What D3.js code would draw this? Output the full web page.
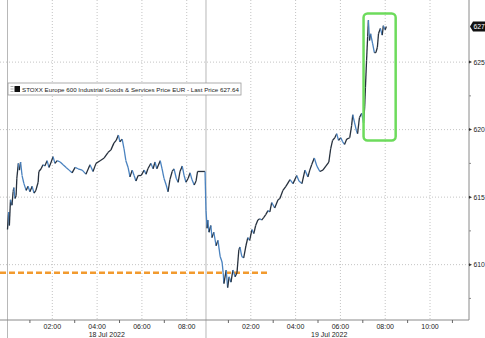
<!DOCTYPE html>
<html>
<head>
<meta charset="utf-8">
<script src="https://cdn.jsdelivr.net/npm/d3@7"></script>
<style>
  body { margin: 0; background: #fff; }
  svg { display: block; font-family: "Liberation Sans", Arial, sans-serif; }
</style>
</head>
<body>
<svg width="485" height="338"></svg>
<script>
var svg = d3.select("svg"),
	width = 469,
	height = 320;

// 18 Jul 2022 session
let day1Times = ["00:00","00:03","00:05","00:08","00:12","00:15","00:17","00:20","00:23","00:25",
	"00:29","00:32","00:35","00:39","00:44","00:50","00:55","01:00","01:06","01:11",
	"01:16","01:22","01:24","01:30","01:35","01:40","01:46","01:51","01:57","02:02",
	"02:07","02:13","02:21","02:29","02:37","02:45","02:53","03:01","03:09","03:20",
	"03:30","03:41","03:49","03:57","04:08","04:19","04:29","04:37","04:45","04:51",
	"04:57","05:01","05:07","05:12","05:17","05:23","05:28","05:34","05:39","05:44",
	"05:50","05:58","06:06","06:11","06:16","06:24","06:30","06:35","06:40","06:49",
	"06:54","06:59","07:05","07:10","07:15","07:21","07:26","07:32","07:37","07:42",
	"07:48","07:53","07:58","08:04","08:09","08:14","08:20","08:25","08:29","08:49"];
let day1Prices = [612.6,613.9,612.9,614.8,614.4,615.4,615.7,614.9,615.1,616.4,
	617.5,617.0,617.6,616.6,616.0,615.5,615.8,615.4,615.8,615.3,
	615.5,616.1,616.9,617.1,617.4,617.3,617.7,617.2,617.6,618.0,
	617.5,617.7,617.6,617.4,617.2,617.0,616.8,617.2,617.1,617.0,
	616.7,617.4,616.9,617.5,617.7,617.9,618.3,618.5,619.0,619.2,
	619.6,619.1,619.3,618.6,617.7,617.2,616.5,617.0,616.6,616.2,
	616.6,616.6,617.0,616.7,617.1,617.5,617.1,617.6,617.1,617.7,
	617.1,616.4,615.9,615.4,616.3,616.9,617.1,616.4,616.1,616.9,
	617.3,616.6,616.1,616.4,616.8,616.3,615.9,616.2,616.9,616.9];

// 19 Jul 2022 session
let day2Times = ["00:00","00:03","00:05","00:08","00:13","00:16","00:21","00:27","00:32","00:38",
	"00:43","00:46","00:48","00:54","00:58","01:02","01:07","01:12","01:18","01:23",
	"01:28","01:31","01:36","01:41","01:47","01:52","01:57","02:03","02:08","02:13",
	"02:19","02:24","02:29","02:35","02:40","02:46","02:51","02:56","03:04","03:13",
	"03:18","03:26","03:34","03:45","03:53","04:03","04:09","04:17","04:25","04:33",
	"04:38","04:43","04:50","04:57","05:05","05:13","05:21","05:29","05:34","05:39",
	"05:45","05:50","05:55","06:01","06:06","06:11","06:17","06:25","06:30","06:33",
	"06:38","06:43","06:46","06:51","06:57","07:02","07:05","07:07","07:10","07:13",
	"07:15","07:18","07:21","07:26","07:31","07:35","07:39","07:42","07:47","07:52",
	"07:55","08:00","08:03"];
let day2Prices = [614.0,612.7,613.3,612.4,612.9,612.0,612.4,611.4,611.8,610.6,
	610.2,609.4,608.6,609.6,608.3,609.1,608.7,609.6,609.1,609.4,
	611.1,611.3,610.6,610.5,611.4,612.0,611.8,612.6,612.3,612.9,
	613.3,613.4,613.3,613.5,613.7,614.0,613.9,614.6,614.2,614.8,
	614.9,615.5,615.8,616.3,616.0,616.6,616.2,616.0,617.0,616.5,
	617.0,617.4,617.9,617.3,616.9,617.0,617.3,617.6,618.6,619.2,
	619.4,619.7,619.2,619.4,619.1,618.9,619.3,619.4,620.3,621.1,
	620.5,619.9,619.7,620.9,621.2,620.5,621.7,623.1,625.1,626.9,
	628.1,626.6,627.1,626.4,625.7,625.7,626.1,627.1,627.5,627.0,
	627.7,627.4,627.64];

let yTicks = [610, 615, 620, 625];
let yMinorTicks = [607.5, 612.5, 617.5, 622.5];
let hourLabels = [["02:00","04:00","06:00","08:00"], ["02:00","04:00","06:00","08:00","10:00"]];
let hourTicks = [["01:00","03:00","05:00","07:00"], ["01:00","03:00","05:00","07:00","09:00","11:00"]];
let dayLabels = ["18 Jul 2022", "19 Jul 2022"];
let seriesName = "STOXX Europe 600 Industrial Goods & Services Price EUR - Last Price";
let lastPrice = 627.64;
let supportLevel = 609.4;
let supportEnd = "02:51";   // dashed level runs until this time on 19 Jul
let boxStart = "07:02", boxEnd = "08:28";   // green highlight, 19 Jul
let boxLow = 619.2, boxHigh = 628.6;

// non-trading hours are squeezed out, so day 2 starts right after day 1
let dayOffset = [0, 8.86];
function axisHour(day, t) {
	let p = t.split(":").map(Number);
	return dayOffset[day] + p[0] + p[1] / 60;
}

var x = d3.scaleLinear()
	.domain([-0.335, 20.6])
	.range([0, width]);

var y = d3.scaleLinear()
	.domain([605.9, 629.6])
	.range([height, 0]);

let data = [];
day1Times.forEach(function(t, i) { data.push({h: axisHour(0, t), v: day1Prices[i]}); });
day2Times.forEach(function(t, i) { data.push({h: axisHour(1, t), v: day2Prices[i]}); });

// gridlines
let grid = svg.append("g").attr("stroke", "#c4c4c4").attr("stroke-dasharray", "1,2");
yTicks.forEach(function(v) {
	grid.append("line").attr("x1", 0).attr("x2", width).attr("y1", y(v)).attr("y2", y(v));
});
hourLabels.forEach(function(list, day) {
	list.forEach(function(t) {
		grid.append("line").attr("x1", x(axisHour(day, t))).attr("x2", x(axisHour(day, t)))
			.attr("y1", 0).attr("y2", height);
	});
});

// day separators
[0, 1].forEach(function(day) {
	svg.append("line")
		.attr("x1", x(dayOffset[day])).attr("x2", x(dayOffset[day]))
		.attr("y1", 0).attr("y2", 338)
		.attr("stroke", "#b8b8b8");
});

// support level
svg.append("line")
	.attr("x1", 0)
	.attr("x2", x(axisHour(1, supportEnd)))
	.attr("y1", y(supportLevel))
	.attr("y2", y(supportLevel))
	.attr("stroke", "#f29a2e")
	.attr("stroke-width", 2.6)
	.attr("stroke-dasharray", "6,3");

// price line, coloured by tick direction
let segs = svg.append("g").attr("fill", "none").attr("stroke-width", 1.3);
for (let i = 1; i < data.length; i++) {
	segs.append("line")
		.attr("x1", x(data[i - 1].h)).attr("y1", y(data[i - 1].v))
		.attr("x2", x(data[i].h)).attr("y2", y(data[i].v))
		.attr("stroke", data[i].v >= data[i - 1].v ? "#26303d" : "#4a82bf");
}

// highlight box
svg.append("rect")
	.attr("x", x(axisHour(1, boxStart)))
	.attr("y", y(boxHigh))
	.attr("width", x(axisHour(1, boxEnd)) - x(axisHour(1, boxStart)))
	.attr("height", y(boxLow) - y(boxHigh))
	.attr("rx", 4)
	.attr("fill", "none")
	.attr("stroke", "#6ddb5c")
	.attr("stroke-width", 2.5);

// legend
let legend = svg.append("g").attr("transform", "translate(8,83)");
legend.append("rect")
	.attr("width", 233).attr("height", 12)
	.attr("fill", "#fff").attr("stroke", "#9a9a9a").attr("stroke-width", 0.8);
[3.5, 6, 8.5].forEach(function(ly) {
	legend.append("line").attr("x1", 2.5).attr("x2", 5.5).attr("y1", ly).attr("y2", ly)
		.attr("stroke", "#999").attr("stroke-width", 0.8);
});
legend.append("rect").attr("x", 6.5).attr("y", 3).attr("width", 5.5).attr("height", 6).attr("fill", "#111");
legend.append("text")
	.attr("x", 14).attr("y", 8.6)
	.style("font-size", "6.2px")
	.attr("fill", "#222")
	.text(seriesName + " " + lastPrice.toFixed(2));

// axes
svg.append("line").attr("x1", 0).attr("x2", width).attr("y1", height).attr("y2", height)
	.attr("stroke", "#8a8a8a");
svg.append("line").attr("x1", width).attr("x2", width).attr("y1", 0).attr("y2", height)
	.attr("stroke", "#8a8a8a");

yTicks.forEach(function(v) {
	svg.append("path")
		.attr("d", "M" + width + "," + (y(v) - 1.5) + "L" + (width + 3) + "," + y(v) + "L" + width + "," + (y(v) + 1.5) + "Z")
		.attr("fill", "#333");
	svg.append("text")
		.attr("x", width + 4.5).attr("y", y(v) + 2.4)
		.style("font-size", "6.8px").attr("fill", "#222")
		.text(v);
});
yMinorTicks.forEach(function(v) {
	svg.append("line").attr("x1", width).attr("x2", width + 2).attr("y1", y(v)).attr("y2", y(v))
		.attr("stroke", "#8a8a8a");
});

hourTicks.forEach(function(list, day) {
	list.forEach(function(t) {
		svg.append("line").attr("x1", x(axisHour(day, t))).attr("x2", x(axisHour(day, t)))
			.attr("y1", height).attr("y2", height + 3).attr("stroke", "#666");
	});
});
hourLabels.forEach(function(list, day) {
	list.forEach(function(t) {
		svg.append("text")
			.attr("x", x(axisHour(day, t))).attr("y", height + 8.5)
			.attr("text-anchor", "middle")
			.style("font-size", "7px").attr("fill", "#222")
			.text(t);
	});
});
let dayCentres = [
	(x(dayOffset[0]) + x(dayOffset[1])) / 2,
	(x(dayOffset[1]) + x(axisHour(1, "11:00"))) / 2
];
dayLabels.forEach(function(d, i) {
	svg.append("text")
		.attr("x", dayCentres[i]).attr("y", height + 16.5)
		.attr("text-anchor", "middle")
		.style("font-size", "7px").attr("fill", "#222")
		.text(d);
});

// last price tag
let ly = y(lastPrice);
svg.append("path")
	.attr("d", "M" + (width + 1) + "," + ly + "L" + (width + 4) + "," + (ly - 5) + "L485," + (ly - 5) + "L485," + (ly + 5) + "L" + (width + 4) + "," + (ly + 5) + "Z")
	.attr("fill", "#111");
svg.append("text")
	.attr("x", width + 4.5).attr("y", ly + 2.4)
	.style("font-size", "6.8px").attr("fill", "#fff")
	.text(Math.floor(lastPrice));
</script>
</body>
</html>
